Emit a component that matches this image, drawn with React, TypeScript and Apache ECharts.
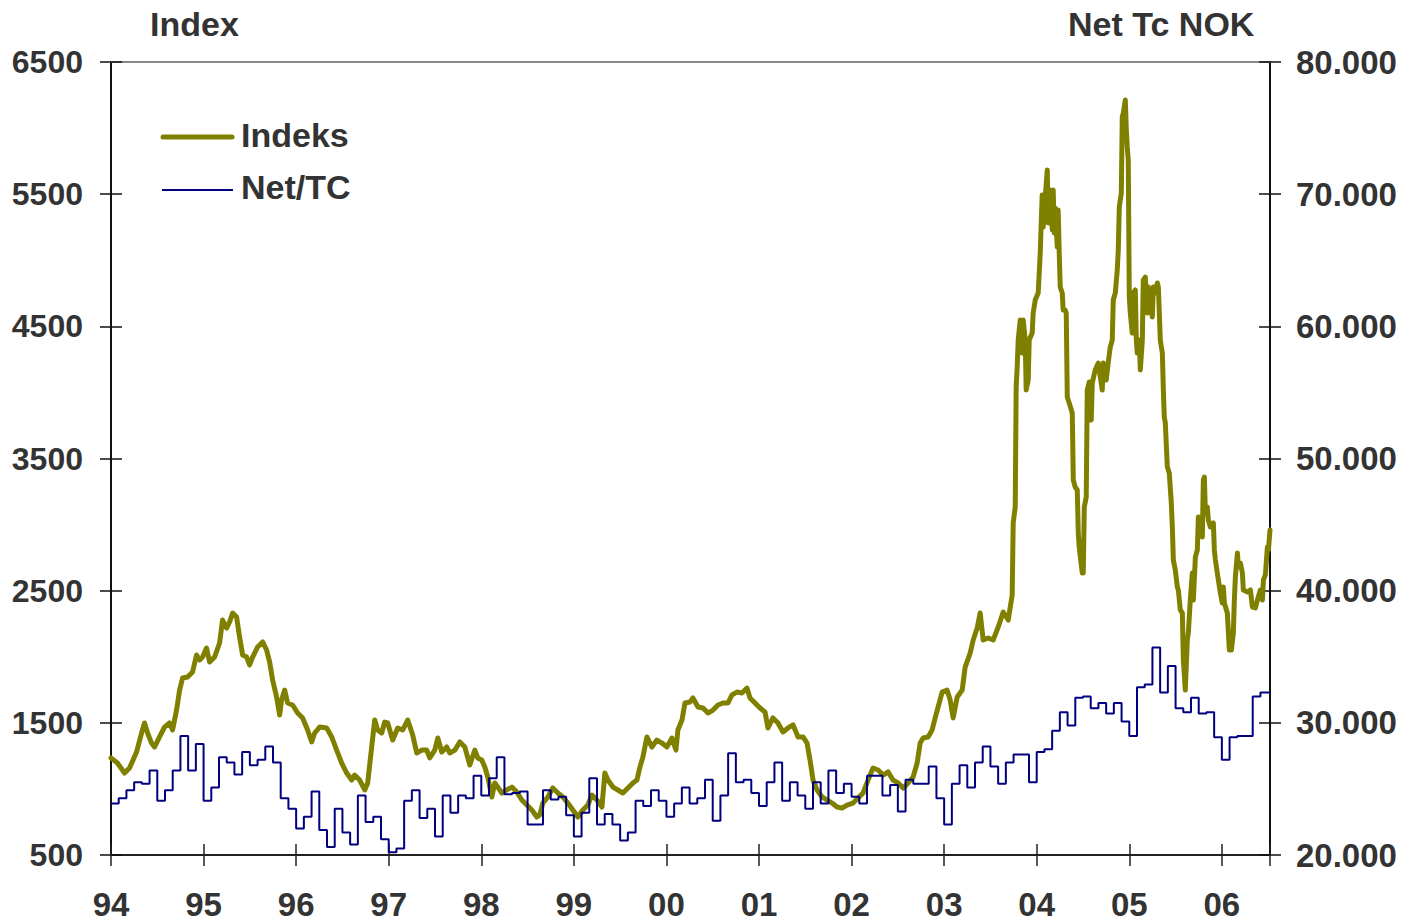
import React, { useEffect, useRef } from "react";
import * as echarts from "echarts";

// Indeks (left axis), [decimal year, index value]
const indeks: [number, number][] = [
  [1994.0, 1234], [1994.07, 1196], [1994.146, 1120], [1994.2, 1158], [1994.276, 1279], [1994.33, 1423],
  [1994.362, 1499], [1994.395, 1423], [1994.438, 1347], [1994.47, 1317], [1994.524, 1393], [1994.578, 1468],
  [1994.632, 1499], [1994.665, 1446], [1994.708, 1597], [1994.741, 1748], [1994.773, 1839], [1994.827, 1847],
  [1994.881, 1885], [1994.924, 2013], [1994.957, 1975], [1994.989, 1998],
  [1995.032, 2066], [1995.065, 1960], [1995.119, 1998], [1995.173, 2104], [1995.205, 2278], [1995.249, 2217],
  [1995.281, 2263], [1995.314, 2331], [1995.357, 2300], [1995.389, 2149], [1995.422, 2013], [1995.465, 1998],
  [1995.497, 1938], [1995.53, 1998], [1995.584, 2074], [1995.638, 2112], [1995.681, 2051], [1995.714, 1960],
  [1995.746, 1824], [1995.789, 1695], [1995.822, 1559], [1995.843, 1673], [1995.876, 1748], [1995.908, 1650],
  [1995.962, 1635],
  [1996.016, 1574], [1996.07, 1537], [1996.124, 1446], [1996.168, 1355], [1996.2, 1423], [1996.254, 1468],
  [1996.33, 1461], [1996.384, 1393], [1996.438, 1294], [1996.492, 1196], [1996.546, 1120], [1996.6, 1067],
  [1996.632, 1105], [1996.686, 1067], [1996.741, 992], [1996.773, 1045], [1996.816, 1317], [1996.849, 1521],
  [1996.881, 1446], [1996.924, 1423], [1996.957, 1506], [1996.989, 1499],
  [1997.043, 1370], [1997.097, 1461], [1997.151, 1446], [1997.205, 1521], [1997.259, 1408], [1997.303, 1272],
  [1997.357, 1294], [1997.411, 1294], [1997.443, 1234], [1997.497, 1294], [1997.53, 1385], [1997.573, 1279],
  [1997.627, 1317], [1997.659, 1272], [1997.714, 1294], [1997.768, 1355], [1997.822, 1317], [1997.876, 1181],
  [1997.93, 1294], [1997.962, 1234],
  [1998.005, 1219], [1998.038, 1166], [1998.07, 1090], [1998.114, 939], [1998.146, 1045], [1998.178, 1014],
  [1998.222, 969], [1998.276, 992], [1998.33, 1014], [1998.384, 977], [1998.438, 916], [1998.492, 878],
  [1998.546, 840], [1998.6, 787], [1998.632, 803], [1998.665, 893], [1998.719, 939], [1998.773, 1007],
  [1998.827, 969], [1998.881, 939], [1998.935, 893], [1998.989, 840],
  [1999.043, 787], [1999.097, 840], [1999.151, 878], [1999.195, 954], [1999.249, 916], [1999.303, 863],
  [1999.335, 1120], [1999.368, 1067], [1999.422, 1014], [1999.476, 992], [1999.53, 969], [1999.584, 1007],
  [1999.638, 1045], [1999.681, 1067], [1999.714, 1166], [1999.746, 1241], [1999.789, 1393], [1999.843, 1317],
  [1999.897, 1370], [1999.951, 1347],
  [2000.005, 1317], [2000.059, 1385], [2000.103, 1294], [2000.124, 1446], [2000.168, 1521], [2000.2, 1650],
  [2000.254, 1658], [2000.286, 1688], [2000.341, 1620], [2000.395, 1612], [2000.449, 1574], [2000.503, 1597],
  [2000.557, 1635], [2000.611, 1650], [2000.665, 1650], [2000.708, 1711], [2000.762, 1733], [2000.816, 1726],
  [2000.87, 1763], [2000.903, 1688], [2000.957, 1650],
  [2001.011, 1612], [2001.065, 1582], [2001.097, 1461], [2001.151, 1537], [2001.205, 1499], [2001.259, 1431],
  [2001.314, 1461], [2001.368, 1484], [2001.422, 1393], [2001.476, 1393], [2001.519, 1347], [2001.551, 1219],
  [2001.584, 1067], [2001.627, 992], [2001.681, 939], [2001.735, 916], [2001.789, 893], [2001.843, 863],
  [2001.897, 855], [2001.951, 878],
  [2002.016, 893], [2002.07, 931], [2002.124, 969], [2002.178, 1067], [2002.232, 1158], [2002.286, 1143],
  [2002.341, 1105], [2002.395, 1128], [2002.449, 1067], [2002.503, 1045], [2002.557, 1007], [2002.611, 1045],
  [2002.665, 1090], [2002.708, 1196], [2002.741, 1347], [2002.773, 1385], [2002.827, 1393], [2002.87, 1446],
  [2002.903, 1537], [2002.935, 1620], [2002.978, 1733],
  [2003.032, 1748], [2003.065, 1673], [2003.097, 1537], [2003.141, 1695], [2003.195, 1748], [2003.227, 1922],
  [2003.281, 2028], [2003.314, 2127], [2003.357, 2217], [2003.389, 2331], [2003.422, 2127], [2003.476, 2142],
  [2003.53, 2127], [2003.584, 2225], [2003.638, 2339], [2003.692, 2278], [2003.735, 2467], [2003.746, 3012],
  [2003.768, 3133], [2003.778, 4041], [2003.789, 4192], [2003.8, 4396], [2003.822, 4548], [2003.843, 4298],
  [2003.854, 4548], [2003.876, 4396], [2003.886, 4018], [2003.908, 4094], [2003.919, 4396], [2003.951, 4449],
  [2003.962, 4601], [2003.984, 4699],
  [2004.016, 4752], [2004.038, 5055], [2004.059, 5494], [2004.07, 5251], [2004.092, 5479], [2004.114, 5683],
  [2004.124, 5282], [2004.146, 5531], [2004.168, 5229], [2004.178, 5531], [2004.189, 5206], [2004.2, 5395],
  [2004.222, 5100], [2004.232, 5380], [2004.243, 5055], [2004.254, 4797], [2004.276, 4752], [2004.286, 4623],
  [2004.308, 4623], [2004.319, 4601], [2004.33, 3965], [2004.351, 3920], [2004.384, 3844], [2004.395, 3337],
  [2004.416, 3284], [2004.438, 3262], [2004.449, 2936], [2004.459, 2830], [2004.492, 2634], [2004.503, 2634],
  [2004.514, 3133], [2004.535, 3209], [2004.546, 4018], [2004.568, 4079], [2004.589, 3791], [2004.6, 4071],
  [2004.632, 4170], [2004.665, 4222], [2004.708, 4018], [2004.719, 4222], [2004.751, 4094], [2004.773, 4230],
  [2004.795, 4344], [2004.816, 4396], [2004.827, 4699], [2004.849, 4752], [2004.87, 4926], [2004.881, 5077],
  [2004.892, 5403], [2004.914, 5509], [2004.924, 6084], [2004.935, 6114], [2004.957, 6212], [2004.968, 5985],
  [2004.978, 5857], [2004.989, 5758],
  [2005.0, 4722], [2005.011, 4601], [2005.032, 4449], [2005.043, 4752], [2005.065, 4775], [2005.076, 4396],
  [2005.086, 4298], [2005.108, 4396], [2005.119, 4170], [2005.141, 4396], [2005.151, 4850], [2005.173, 4873],
  [2005.195, 4601], [2005.205, 4797], [2005.227, 4646], [2005.249, 4571], [2005.259, 4797], [2005.281, 4752],
  [2005.303, 4828], [2005.314, 4797], [2005.335, 4396], [2005.357, 4298], [2005.368, 4018], [2005.378, 3814],
  [2005.389, 3769], [2005.411, 3436], [2005.432, 3390], [2005.454, 3163], [2005.465, 2982], [2005.476, 2732],
  [2005.497, 2656], [2005.519, 2528], [2005.53, 2505], [2005.551, 2354], [2005.573, 2331], [2005.584, 1975],
  [2005.605, 1748], [2005.627, 2127], [2005.638, 2180], [2005.659, 2429], [2005.681, 2634], [2005.692, 2429],
  [2005.714, 2755], [2005.735, 2808], [2005.746, 3057], [2005.768, 3035], [2005.789, 2906], [2005.8, 3337],
  [2005.811, 3360], [2005.822, 3088], [2005.843, 3133], [2005.854, 3035], [2005.876, 2982], [2005.908, 3012],
  [2005.919, 2808], [2005.93, 2732], [2005.962, 2581], [2005.984, 2482],
  [2006.005, 2407], [2006.016, 2528], [2006.027, 2407], [2006.059, 2331], [2006.081, 2051], [2006.103, 2051],
  [2006.124, 2180], [2006.135, 2429], [2006.146, 2603], [2006.168, 2785], [2006.178, 2679], [2006.2, 2709],
  [2006.222, 2634], [2006.232, 2505], [2006.276, 2490], [2006.308, 2505], [2006.33, 2376], [2006.362, 2369],
  [2006.384, 2429], [2006.416, 2505], [2006.438, 2429], [2006.449, 2581], [2006.47, 2619], [2006.492, 2830],
  [2006.503, 2808], [2006.52, 2959],
];

// Net/TC NOK (right axis), monthly values in thousands, Jan 1994 ... Jun 2006
const netTcStartYear = 1994;
const netTcEndYear = 2006.52;
const netTcMonthly: number[] = [
  23.9, 24.3, 24.9, 25.5, 25.4, 26.4, 24.1, 24.9, 26.4, 29.0, 26.4, 28.4,
  24.1, 25.1, 27.4, 27.0, 26.1, 27.8, 26.8, 27.2, 28.2, 27.0, 24.3, 23.5,
  22.0, 22.9, 24.8, 21.9, 20.6, 23.5, 21.7, 20.8, 24.5, 22.5, 22.9, 21.2,
  20.2, 20.5, 24.1, 24.9, 22.8, 23.5, 21.4, 24.5, 23.2, 24.5, 24.3, 26.0,
  24.5, 25.8, 27.4, 24.6, 24.7, 24.8, 22.3, 22.3, 24.9, 24.2, 24.4, 23.0,
  21.4, 23.2, 25.8, 22.3, 23.1, 22.3, 21.1, 21.7, 24.1, 23.7, 24.9, 24.1,
  22.9, 23.9, 25.1, 23.9, 24.3, 25.7, 22.6, 24.5, 27.7, 25.5, 25.7, 24.7,
  23.7, 25.5, 27.0, 24.1, 25.5, 24.5, 23.5, 25.5, 23.9, 26.4, 24.7, 25.4,
  24.4, 23.9, 26.0, 26.0, 24.5, 25.3, 23.3, 25.7, 25.4, 25.4, 26.7, 24.3,
  22.3, 25.4, 26.8, 25.1, 27.0, 28.2, 26.7, 25.4, 27.0, 27.6, 27.6, 25.5,
  27.8, 28.0, 29.4, 30.8, 29.8, 31.9, 32.0, 31.1, 31.5, 30.7, 31.5, 30.1,
  29.0, 32.7, 32.9, 35.7, 32.3, 34.3, 31.1, 30.8, 31.9, 30.7, 30.8, 28.9,
  27.2, 28.9, 29.0, 29.0, 32.0, 32.3,
];

const xMin = 1994;
const xMax = 2006.52;
const leftMin = 500;
const leftMax = 6500;
const leftStep = 1000;
const rightMin = 20000;
const rightMax = 80000;
const rightStep = 10000;

const FONT = "'Liberation Sans', Arial, sans-serif";
const TEXT = "#333333";
const OLIVE = "#808000";
const NAVY = "#000080";

export default function App() {
  const ref = useRef<HTMLDivElement>(null);

  useEffect(() => {
    if (!ref.current) return;
    const chart = echarts.init(ref.current, null, { renderer: "svg" });

    const netTcData: [number, number][] = netTcMonthly.map((v, i) => [
      netTcStartYear + i / 12,
      v * 1000,
    ]);
    netTcData.push([netTcEndYear, netTcMonthly[netTcMonthly.length - 1] * 1000]);

    const grid = { left: 111, right: 135, top: 62, bottom: 68 };
    const labelFont = { fontFamily: FONT, fontWeight: "bold" as const, color: TEXT };

    chart.setOption({
      animation: false,
      backgroundColor: "#ffffff",
      grid,
      xAxis: [
        {
          type: "value",
          position: "bottom",
          min: xMin,
          max: xMax,
          interval: 1,
          axisLine: { show: true, lineStyle: { color: "#222", width: 2 } },
          axisTick: { show: true, inside: false, length: 11, lineStyle: { color: "#222", width: 1.5 } },
          axisLabel: {
            ...labelFont,
            fontSize: 33,
            margin: 33,
            formatter: (v: number) =>
              Math.abs(v - Math.round(v)) < 1e-6 ? String(Math.round(v) % 100).padStart(2, "0") : "",
          },
          splitLine: { show: false },
        },
        {
          type: "value",
          position: "bottom",
          min: xMin,
          max: xMax,
          interval: 1,
          axisLine: { show: false },
          axisTick: { show: true, inside: true, length: 11, lineStyle: { color: "#222", width: 1.5 } },
          axisLabel: { show: false },
          splitLine: { show: false },
        },
        {
          type: "value",
          position: "top",
          min: xMin,
          max: xMax,
          axisLine: { show: true, lineStyle: { color: "#888", width: 2 } },
          axisTick: { show: false },
          axisLabel: { show: false },
          splitLine: { show: false },
        },
      ],
      yAxis: [
        {
          type: "value",
          position: "left",
          min: leftMin,
          max: leftMax,
          interval: leftStep,
          axisLine: { show: true, lineStyle: { color: "#111", width: 2 } },
          axisTick: { show: true, inside: false, length: 11, lineStyle: { color: "#111", width: 1.5 } },
          axisLabel: { ...labelFont, fontSize: 32, margin: 28, formatter: (v: number) => String(v) },
          splitLine: { show: false },
        },
        {
          type: "value",
          position: "left",
          min: leftMin,
          max: leftMax,
          interval: leftStep,
          axisLine: { show: false },
          axisTick: { show: true, inside: true, length: 11, lineStyle: { color: "#111", width: 1.5 } },
          axisLabel: { show: false },
          splitLine: { show: false },
        },
        {
          type: "value",
          position: "right",
          min: rightMin,
          max: rightMax,
          interval: rightStep,
          axisLine: { show: true, lineStyle: { color: "#111", width: 2 } },
          axisTick: { show: true, inside: false, length: 11, lineStyle: { color: "#111", width: 1.5 } },
          axisLabel: {
            ...labelFont,
            fontSize: 33,
            margin: 26,
            formatter: (v: number) => `${Math.round(v / 1000)}.000`,
          },
          splitLine: { show: false },
        },
        {
          type: "value",
          position: "right",
          min: rightMin,
          max: rightMax,
          interval: rightStep,
          axisLine: { show: false },
          axisTick: { show: true, inside: true, length: 11, lineStyle: { color: "#111", width: 1.5 } },
          axisLabel: { show: false },
          splitLine: { show: false },
        },
      ],
      series: [
        {
          name: "Indeks",
          type: "line",
          xAxisIndex: 0,
          yAxisIndex: 0,
          data: indeks,
          showSymbol: false,
          symbol: "none",
          lineStyle: { color: OLIVE, width: 5, join: "round", cap: "round" },
          z: 3,
        },
        {
          name: "Net/TC",
          type: "line",
          xAxisIndex: 0,
          yAxisIndex: 2,
          data: netTcData,
          step: "end",
          showSymbol: false,
          symbol: "none",
          lineStyle: { color: NAVY, width: 2 },
          z: 4,
        },
      ],
      graphic: [
        {
          type: "text",
          left: 150,
          top: 7,
          style: { text: "Index", font: `bold 34px ${FONT}`, fill: TEXT },
        },
        {
          type: "text",
          left: 1068,
          top: 7,
          style: { text: "Net Tc NOK", font: `bold 34px ${FONT}`, fill: TEXT },
        },
        {
          type: "line",
          shape: { x1: 163, y1: 137, x2: 232, y2: 137 },
          style: { stroke: OLIVE, lineWidth: 5, lineCap: "round" },
        },
        {
          type: "text",
          left: 241,
          top: 118,
          style: { text: "Indeks", font: `bold 34px ${FONT}`, fill: TEXT },
        },
        {
          type: "line",
          shape: { x1: 162, y1: 190, x2: 233, y2: 190 },
          style: { stroke: NAVY, lineWidth: 2 },
        },
        {
          type: "text",
          left: 241,
          top: 170,
          style: { text: "Net/TC", font: `bold 34px ${FONT}`, fill: TEXT },
        },
      ],
    });

    return () => chart.dispose();
  }, []);

  return (
    <div
      ref={ref}
      style={{ position: "absolute", left: 0, top: 0, width: 1405, height: 923, background: "#fff" }}
    />
  );
}
